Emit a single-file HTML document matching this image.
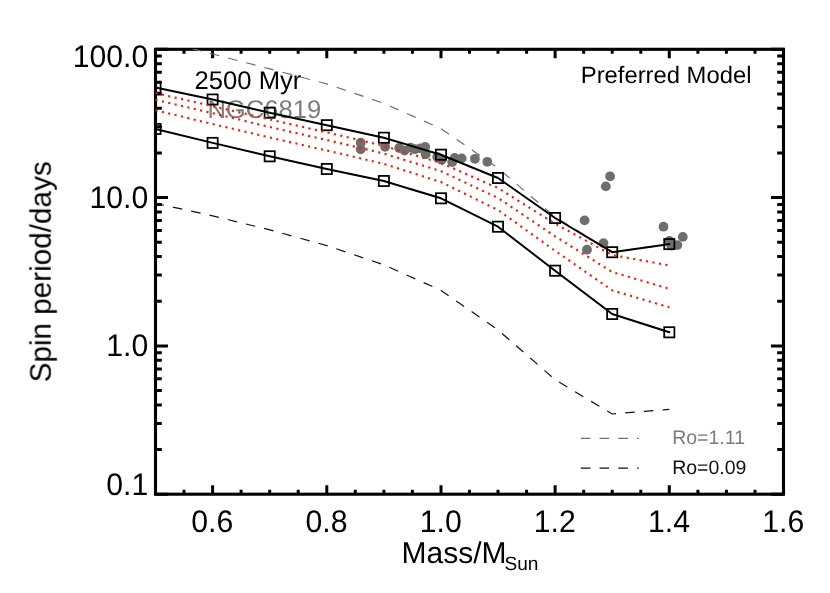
<!DOCTYPE html><html><head><meta charset="utf-8"><title>Spin period vs mass</title><style>html,body{margin:0;padding:0;background:#fff}svg{display:block}text{font-family:"Liberation Sans",sans-serif;text-rendering:geometricPrecision}</style></head><body>
<svg width="830" height="593" viewBox="0 0 830 593">
<rect width="830" height="593" fill="#fff"/>
<defs><clipPath id="c"><rect x="155.5" y="49.3" width="628.0" height="444.9"/></clipPath></defs>
<path d="M155.5,494.2v-4.4M155.5,49.3v4.4M184.0,494.2v-4.4M184.0,49.3v4.4M212.6,494.2v-8.9M212.6,49.3v8.9M241.1,494.2v-4.4M241.1,49.3v4.4M269.7,494.2v-4.4M269.7,49.3v4.4M298.2,494.2v-4.4M298.2,49.3v4.4M326.8,494.2v-8.9M326.8,49.3v8.9M355.3,494.2v-4.4M355.3,49.3v4.4M383.9,494.2v-4.4M383.9,49.3v4.4M412.4,494.2v-4.4M412.4,49.3v4.4M441.0,494.2v-8.9M441.0,49.3v8.9M469.5,494.2v-4.4M469.5,49.3v4.4M498.0,494.2v-4.4M498.0,49.3v4.4M526.6,494.2v-4.4M526.6,49.3v4.4M555.1,494.2v-8.9M555.1,49.3v8.9M583.7,494.2v-4.4M583.7,49.3v4.4M612.2,494.2v-4.4M612.2,49.3v4.4M640.8,494.2v-4.4M640.8,49.3v4.4M669.3,494.2v-8.9M669.3,49.3v8.9M697.9,494.2v-4.4M697.9,49.3v4.4M726.4,494.2v-4.4M726.4,49.3v4.4M755.0,494.2v-4.4M755.0,49.3v4.4M783.5,494.2v-8.9M783.5,49.3v8.9M155.5,494.2h12.5M783.5,494.2h-12.5M155.5,449.6h6.3M783.5,449.6h-6.3M155.5,423.4h6.3M783.5,423.4h-6.3M155.5,404.9h6.3M783.5,404.9h-6.3M155.5,390.5h6.3M783.5,390.5h-6.3M155.5,378.8h6.3M783.5,378.8h-6.3M155.5,368.9h6.3M783.5,368.9h-6.3M155.5,360.3h6.3M783.5,360.3h-6.3M155.5,352.7h6.3M783.5,352.7h-6.3M155.5,345.9h12.5M783.5,345.9h-12.5M155.5,301.3h6.3M783.5,301.3h-6.3M155.5,275.1h6.3M783.5,275.1h-6.3M155.5,256.6h6.3M783.5,256.6h-6.3M155.5,242.2h6.3M783.5,242.2h-6.3M155.5,230.5h6.3M783.5,230.5h-6.3M155.5,220.6h6.3M783.5,220.6h-6.3M155.5,212.0h6.3M783.5,212.0h-6.3M155.5,204.4h6.3M783.5,204.4h-6.3M155.5,197.6h12.5M783.5,197.6h-12.5M155.5,153.0h6.3M783.5,153.0h-6.3M155.5,126.8h6.3M783.5,126.8h-6.3M155.5,108.3h6.3M783.5,108.3h-6.3M155.5,93.9h6.3M783.5,93.9h-6.3M155.5,82.2h6.3M783.5,82.2h-6.3M155.5,72.3h6.3M783.5,72.3h-6.3M155.5,63.7h6.3M783.5,63.7h-6.3M155.5,56.1h6.3M783.5,56.1h-6.3M155.5,49.3h12.5M783.5,49.3h-12.5" stroke="#000" stroke-width="3" fill="none"/>
<rect x="155.5" y="49.3" width="628.0" height="444.9" fill="none" stroke="#000" stroke-width="3.1"/>
<g opacity="0.999">
<text transform="translate(148.3,66.5) scale(1,1.03)" font-size="30.2" text-anchor="end">100.0</text>
<text transform="translate(148.3,207.6) scale(1,1.03)" font-size="30.2" text-anchor="end">10.0</text>
<text transform="translate(148.3,356.3) scale(1,1.03)" font-size="30.2" text-anchor="end">1.0</text>
<text transform="translate(148.3,494.8) scale(1,1.03)" font-size="30.2" text-anchor="end">0.1</text>
<text transform="translate(212.3,531.9) scale(1,1.03)" font-size="30.2" text-anchor="middle">0.6</text>
<text transform="translate(326.5,531.9) scale(1,1.03)" font-size="30.2" text-anchor="middle">0.8</text>
<text transform="translate(440.7,531.9) scale(1,1.03)" font-size="30.2" text-anchor="middle">1.0</text>
<text transform="translate(554.8,531.9) scale(1,1.03)" font-size="30.2" text-anchor="middle">1.2</text>
<text transform="translate(669.0,531.9) scale(1,1.03)" font-size="30.2" text-anchor="middle">1.4</text>
<text transform="translate(783.2,531.9) scale(1,1.03)" font-size="30.2" text-anchor="middle">1.6</text>
<text x="194.6" y="88.6" font-size="25.6">2500 Myr</text>
<text x="207.4" y="117.8" font-size="25.6" fill="#7c7c7c">NGC6819</text>
<text x="580.8" y="82.6" font-size="23.8">Preferred Model</text>
<text x="672.2" y="444.2" font-size="19.5" fill="#7c7c7c">Ro=1.11</text>
<text x="672.2" y="474.1" font-size="19.5" fill="#111">Ro=0.09</text>
<text x="401.6" y="563.3" font-size="30">Mass/M<tspan font-size="19.1" dy="7.1" dx="-2.1">Sun</tspan></text>
<text transform="translate(50.7,271.8) rotate(-90)" font-size="29.7" text-anchor="middle">Spin period/days</text>
</g>
<line x1="580.8" y1="438.3" x2="638.7" y2="438.3" stroke="#707070" stroke-width="1.2" stroke-dasharray="9.6 9.15"/>
<line x1="580.8" y1="468.2" x2="638.7" y2="468.2" stroke="#111" stroke-width="1.2" stroke-dasharray="9.6 9.15"/>
<g clip-path="url(#c)">
<polyline points="155.5,39.1 212.6,54.0 269.7,68.9 326.8,83.9 383.9,103.4 441.0,128.6 498.0,168.1 555.1,217.0 612.2,252.2 669.3,244.1" fill="none" stroke="#707070" stroke-width="1.2" stroke-dasharray="9.6 9.15"/>
<polyline points="155.5,203.4 212.6,215.8 269.7,229.8 326.8,245.6 383.9,264.8 441.0,290.4 498.0,329.9 555.1,379.7 612.2,414.0 669.3,409.4" fill="none" stroke="#111" stroke-width="1.2" stroke-dasharray="9.6 9.15" stroke-dashoffset="1"/>
<circle cx="360.7" cy="142.7" r="4.9" fill="#6e6e6e"/>
<circle cx="360.7" cy="149.3" r="4.9" fill="#6e6e6e"/>
<circle cx="385.1" cy="146.8" r="4.9" fill="#6e6e6e"/>
<circle cx="399.2" cy="148.0" r="4.9" fill="#6e6e6e"/>
<circle cx="404.6" cy="150.6" r="4.9" fill="#6e6e6e"/>
<circle cx="410.6" cy="147.6" r="4.9" fill="#6e6e6e"/>
<circle cx="415.0" cy="149.2" r="4.9" fill="#6e6e6e"/>
<circle cx="420.6" cy="148.3" r="4.9" fill="#6e6e6e"/>
<circle cx="425.2" cy="147.0" r="4.9" fill="#6e6e6e"/>
<circle cx="425.7" cy="154.3" r="4.9" fill="#6e6e6e"/>
<circle cx="437.2" cy="157.0" r="4.9" fill="#6e6e6e"/>
<circle cx="441.6" cy="159.9" r="4.9" fill="#6e6e6e"/>
<circle cx="452.2" cy="162.0" r="4.9" fill="#6e6e6e"/>
<circle cx="454.7" cy="158.0" r="4.9" fill="#6e6e6e"/>
<circle cx="461.7" cy="158.4" r="4.9" fill="#6e6e6e"/>
<circle cx="474.9" cy="158.8" r="4.9" fill="#6e6e6e"/>
<circle cx="487.3" cy="161.8" r="4.9" fill="#6e6e6e"/>
<circle cx="584.6" cy="220.4" r="4.9" fill="#6e6e6e"/>
<circle cx="587.0" cy="249.7" r="4.9" fill="#6e6e6e"/>
<circle cx="603.5" cy="243.1" r="4.9" fill="#6e6e6e"/>
<circle cx="605.8" cy="186.4" r="4.9" fill="#6e6e6e"/>
<circle cx="610.1" cy="176.3" r="4.9" fill="#6e6e6e"/>
<circle cx="663.5" cy="226.7" r="4.9" fill="#6e6e6e"/>
<circle cx="669.3" cy="241.0" r="4.9" fill="#6e6e6e"/>
<circle cx="671.2" cy="245.6" r="4.9" fill="#6e6e6e"/>
<circle cx="677.4" cy="245.1" r="4.9" fill="#6e6e6e"/>
<circle cx="682.8" cy="236.9" r="4.9" fill="#6e6e6e"/>
<polyline points="155.5,87.5 212.6,99.5 269.7,112.7 326.8,125.2 383.9,137.7 441.0,154.7 498.0,178.0 555.1,218.0 612.2,252.2 669.3,244.1" fill="none" stroke="#000" stroke-width="2" stroke-linejoin="round" stroke-linecap="round"/>
<rect x="150.4" y="82.4" width="10.2" height="10.2" fill="none" stroke="#000" stroke-width="1.75"/>
<rect x="207.5" y="94.4" width="10.2" height="10.2" fill="none" stroke="#000" stroke-width="1.75"/>
<rect x="264.6" y="107.6" width="10.2" height="10.2" fill="none" stroke="#000" stroke-width="1.75"/>
<rect x="321.7" y="120.1" width="10.2" height="10.2" fill="none" stroke="#000" stroke-width="1.75"/>
<rect x="378.8" y="132.6" width="10.2" height="10.2" fill="none" stroke="#000" stroke-width="1.75"/>
<rect x="435.9" y="149.6" width="10.2" height="10.2" fill="none" stroke="#000" stroke-width="1.75"/>
<rect x="492.9" y="172.9" width="10.2" height="10.2" fill="none" stroke="#000" stroke-width="1.75"/>
<rect x="550.0" y="212.9" width="10.2" height="10.2" fill="none" stroke="#000" stroke-width="1.75"/>
<rect x="607.1" y="247.1" width="10.2" height="10.2" fill="none" stroke="#000" stroke-width="1.75"/>
<rect x="664.2" y="239.0" width="10.2" height="10.2" fill="none" stroke="#000" stroke-width="1.75"/>
<polyline points="155.5,129.0 212.6,142.9 269.7,156.3 326.8,169.0 383.9,181.0 441.0,198.3 498.0,226.7 555.1,270.7 612.2,314.0 669.3,332.3" fill="none" stroke="#000" stroke-width="2" stroke-linejoin="round" stroke-linecap="round"/>
<rect x="150.4" y="123.9" width="10.2" height="10.2" fill="none" stroke="#000" stroke-width="1.75"/>
<rect x="207.5" y="137.8" width="10.2" height="10.2" fill="none" stroke="#000" stroke-width="1.75"/>
<rect x="264.6" y="151.2" width="10.2" height="10.2" fill="none" stroke="#000" stroke-width="1.75"/>
<rect x="321.7" y="163.9" width="10.2" height="10.2" fill="none" stroke="#000" stroke-width="1.75"/>
<rect x="378.8" y="175.9" width="10.2" height="10.2" fill="none" stroke="#000" stroke-width="1.75"/>
<rect x="435.9" y="193.2" width="10.2" height="10.2" fill="none" stroke="#000" stroke-width="1.75"/>
<rect x="492.9" y="221.6" width="10.2" height="10.2" fill="none" stroke="#000" stroke-width="1.75"/>
<rect x="550.0" y="265.6" width="10.2" height="10.2" fill="none" stroke="#000" stroke-width="1.75"/>
<rect x="607.1" y="308.9" width="10.2" height="10.2" fill="none" stroke="#000" stroke-width="1.75"/>
<rect x="664.2" y="327.2" width="10.2" height="10.2" fill="none" stroke="#000" stroke-width="1.75"/>
<polyline points="155.5,93.0 212.6,106.2 269.7,119.4 326.8,132.4 383.9,145.9 441.0,163.0 498.0,188.0 555.1,223.7 612.2,255.0 669.3,265.4" fill="none" stroke="#ff1500" stroke-width="2.1" stroke-dasharray="2.1 4.4388"/>
<polyline points="155.5,99.8 212.6,113.1 269.7,127.0 326.8,140.0 383.9,153.5 441.0,171.2 498.0,197.9 555.1,236.3 612.2,272.0 669.3,288.7" fill="none" stroke="#ff1500" stroke-width="2.1" stroke-dasharray="2.1 4.4361"/>
<polyline points="155.5,110.2 212.6,124.0 269.7,137.5 326.8,150.5 383.9,163.9 441.0,182.0 498.0,210.0 555.1,250.8 612.2,290.3 669.3,307.3" fill="none" stroke="#ff1500" stroke-width="2.1" stroke-dasharray="2.1 4.4346"/>
</g>
</svg></body></html>
